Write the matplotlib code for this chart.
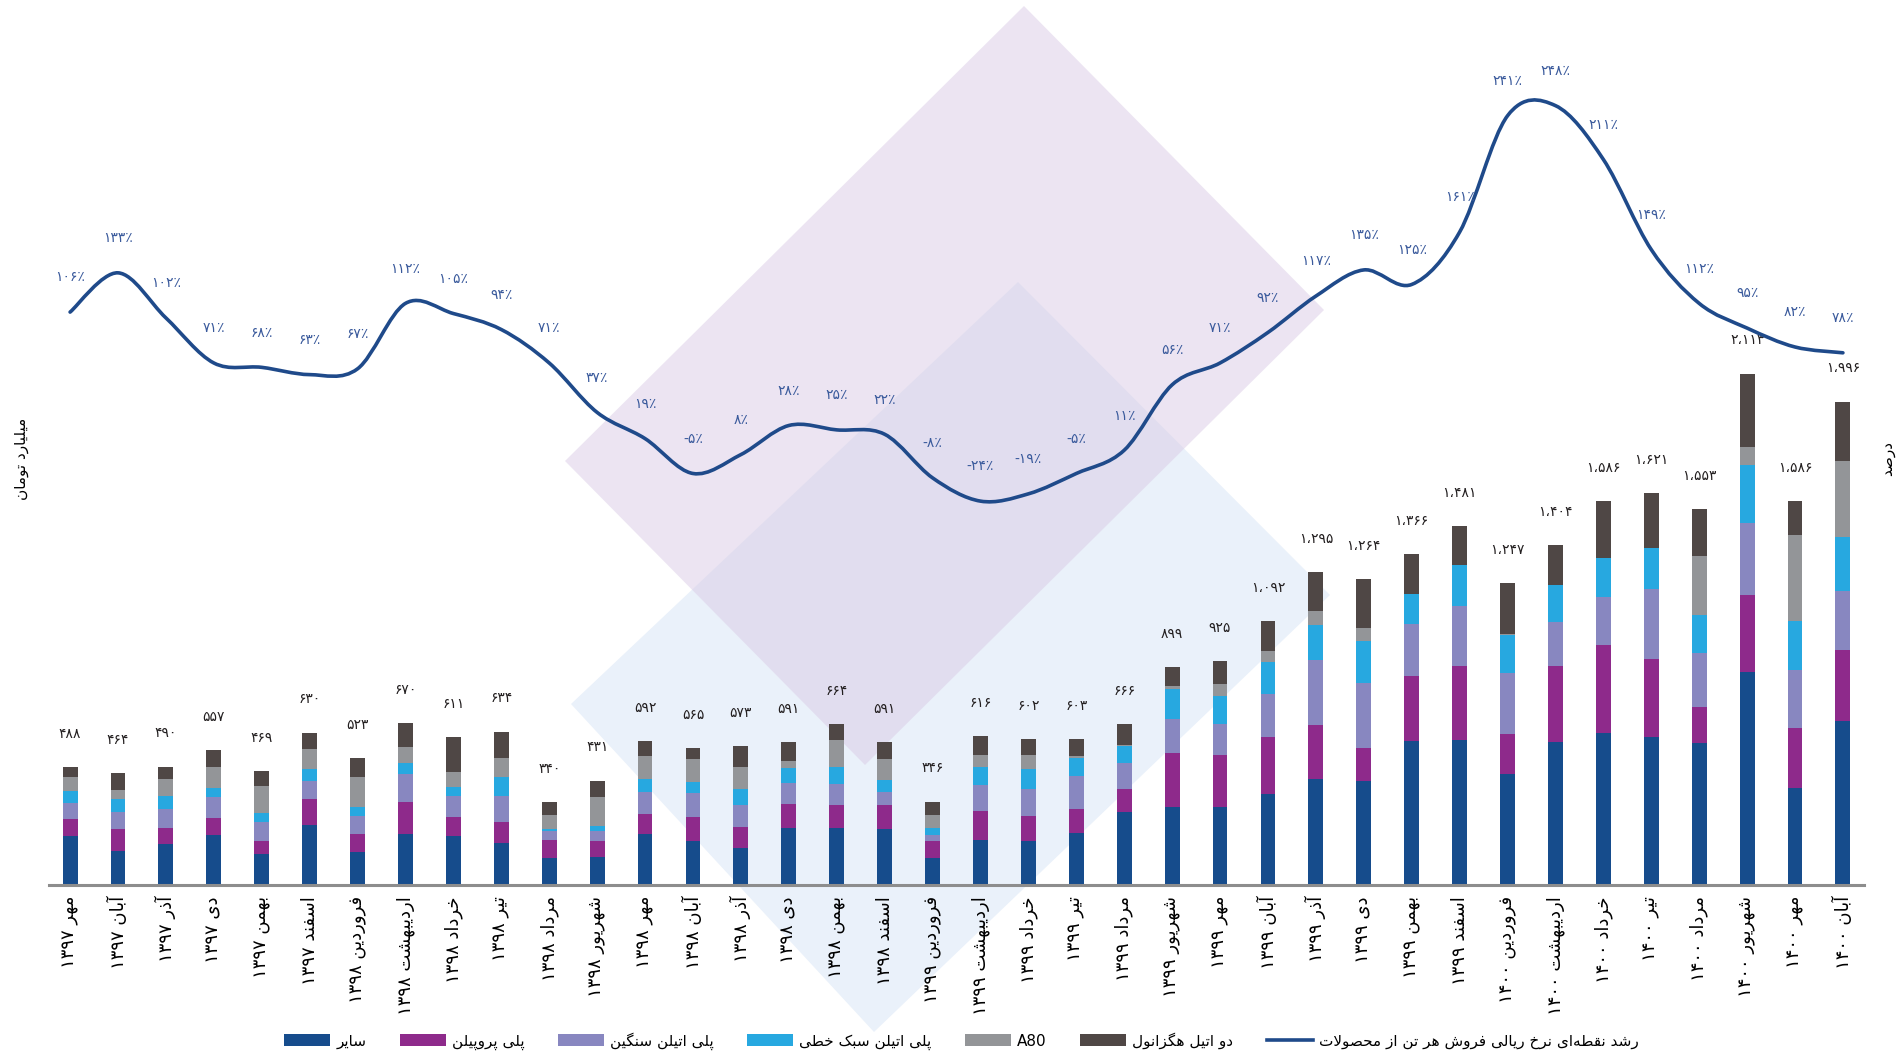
import re

import matplotlib

matplotlib.use("Agg")
import matplotlib.pyplot as plt
import numpy as np
from matplotlib.lines import Line2D
from matplotlib.patches import Patch, PathPatch, Polygon
from matplotlib.path import Path

plt.rcParams["font.family"] = ["DejaVu Sans"]

# ---- data ----
months = [
    "مهر ۱۳۹۷", "آبان ۱۳۹۷", "آذر ۱۳۹۷", "دی ۱۳۹۷", "بهمن ۱۳۹۷", "اسفند ۱۳۹۷",
    "فروردین ۱۳۹۸", "اردیبهشت ۱۳۹۸", "خرداد ۱۳۹۸", "تیر ۱۳۹۸", "مرداد ۱۳۹۸", "شهریور ۱۳۹۸",
    "مهر ۱۳۹۸", "آبان ۱۳۹۸", "آذر ۱۳۹۸", "دی ۱۳۹۸", "بهمن ۱۳۹۸", "اسفند ۱۳۹۸",
    "فروردین ۱۳۹۹", "اردیبهشت ۱۳۹۹", "خرداد ۱۳۹۹", "تیر ۱۳۹۹", "مرداد ۱۳۹۹", "شهریور ۱۳۹۹",
    "مهر ۱۳۹۹", "آبان ۱۳۹۹", "آذر ۱۳۹۹", "دی ۱۳۹۹", "بهمن ۱۳۹۹", "اسفند ۱۳۹۹",
    "فروردین ۱۴۰۰", "اردیبهشت ۱۴۰۰", "خرداد ۱۴۰۰", "تیر ۱۴۰۰", "مرداد ۱۴۰۰", "شهریور ۱۴۰۰",
    "مهر ۱۴۰۰", "آبان ۱۴۰۰",
]

other = [204, 141, 171, 205, 130, 248, 137, 212, 201, 175, 113, 114, 209, 181, 153, 236, 237, 232, 111,
         185, 180, 216, 300, 323, 323, 377, 437, 428, 596, 600, 458, 589, 630, 612, 585, 880, 402, 678]
polypropylene = [68, 92, 64, 72, 52, 109, 72, 130, 79, 85, 71, 67, 85, 98, 85, 98, 92, 98, 72,
                 119, 106, 98, 98, 223, 213, 236, 224, 138, 268, 305, 166, 316, 362, 320, 151, 320, 245, 293]
hdpe = [68, 69, 79, 85, 78, 72, 78, 116, 89, 107, 38, 41, 89, 101, 93, 89, 89, 56, 24,
        111, 112, 136, 106, 139, 130, 176, 268, 268, 216, 248, 250, 182, 199, 293, 224, 296, 242, 243]
lldpe = [48, 52, 55, 37, 36, 50, 37, 48, 37, 78, 10, 22, 55, 47, 65, 61, 68, 46, 30,
         71, 82, 75, 71, 123, 116, 131, 146, 175, 121, 171, 160, 151, 160, 166, 157, 241, 202, 224]
a80 = [57, 38, 71, 90, 115, 83, 124, 66, 62, 79, 57, 119, 93, 93, 93, 30, 114, 89, 54,
       52, 59, 7, 4, 14, 47, 45, 59, 51, 0, 0, 3, 0, 0, 0, 242, 72, 355, 316]
two_eh = [42, 71, 49, 68, 59, 67, 75, 98, 144, 110, 52, 68, 62, 45, 85, 76, 64, 70, 54,
          78, 64, 71, 86, 77, 96, 126, 160, 204, 165, 158, 210, 166, 235, 228, 195, 304, 140, 243]

totals = [488, 464, 490, 557, 469, 630, 523, 670, 611, 634, 340, 431, 592, 565, 573, 591, 664, 591, 346,
          616, 602, 603, 666, 899, 925, 1092, 1295, 1264, 1366, 1481, 1247, 1404, 1586, 1621, 1553, 2113, 1586, 1996]

growth_pct = [106, 133, 102, 71, 68, 63, 67, 112, 105, 94, 71, 37, 19, -5, 8, 28, 25, 22, -8,
              -24, -19, -5, 11, 56, 71, 92, 117, 135, 125, 161, 241, 248, 211, 149, 112, 95, 82, 78]

series_names = ["سایر", "پلی پروپیلن", "پلی اتیلن سنگین", "پلی اتیلن سبک خطی", "A80", "دو اتیل هگزانول"]
line_name = "رشد نقطه‌ای نرخ ریالی فروش هر تن از محصولات"
left_label = "میلیارد تومان"
right_label = "درصد"

colors = ["#164c8c", "#8e2a8b", "#8887c0", "#27a8e0", "#939598", "#4f4745"]
line_color = "#1f4a8a"
pct_color = "#3a5a9c"

# ---- minimal Persian shaping + visual ordering (matplotlib has no bidi) ----
FORMS = {
    "ا": ("\uFE8D", "\uFE8E", None, None), "آ": ("\uFE81", "\uFE82", None, None),
    "ب": ("\uFE8F", "\uFE90", "\uFE91", "\uFE92"), "پ": ("\uFB56", "\uFB57", "\uFB58", "\uFB59"),
    "ت": ("\uFE95", "\uFE96", "\uFE97", "\uFE98"), "ح": ("\uFEA1", "\uFEA2", "\uFEA3", "\uFEA4"),
    "خ": ("\uFEA5", "\uFEA6", "\uFEA7", "\uFEA8"), "د": ("\uFEA9", "\uFEAA", None, None),
    "ذ": ("\uFEAB", "\uFEAC", None, None), "ر": ("\uFEAD", "\uFEAE", None, None),
    "ز": ("\uFEAF", "\uFEB0", None, None), "س": ("\uFEB1", "\uFEB2", "\uFEB3", "\uFEB4"),
    "ش": ("\uFEB5", "\uFEB6", "\uFEB7", "\uFEB8"), "ص": ("\uFEB9", "\uFEBA", "\uFEBB", "\uFEBC"),
    "ط": ("\uFEC1", "\uFEC2", "\uFEC3", "\uFEC4"), "ف": ("\uFED1", "\uFED2", "\uFED3", "\uFED4"),
    "ق": ("\uFED5", "\uFED6", "\uFED7", "\uFED8"), "ک": ("\uFB8E", "\uFB8F", "\uFB90", "\uFB91"),
    "گ": ("\uFB92", "\uFB93", "\uFB94", "\uFB95"), "ل": ("\uFEDD", "\uFEDE", "\uFEDF", "\uFEE0"),
    "م": ("\uFEE1", "\uFEE2", "\uFEE3", "\uFEE4"), "ن": ("\uFEE5", "\uFEE6", "\uFEE7", "\uFEE8"),
    "ه": ("\uFEE9", "\uFEEA", "\uFEEB", "\uFEEC"), "و": ("\uFEED", "\uFEEE", None, None),
    "ی": ("\uFBFC", "\uFBFD", "\uFBFE", "\uFBFF"),
}
LAM_ALEF = {"ا": ("\uFEFB", "\uFEFC"), "آ": ("\uFEF5", "\uFEF6")}
LTR_RUN = r"[0-9A-Za-z۰-۹،]+"


def _dual(c):
    return c in FORMS and FORMS[c][2] is not None


def shape(s):
    out, i = [], 0
    while i < len(s):
        c = s[i]
        if c not in FORMS:
            if c != "\u200c":
                out.append(c)
            i += 1
            continue
        jp = i > 0 and _dual(s[i - 1])
        if c == "ل" and i + 1 < len(s) and s[i + 1] in LAM_ALEF:
            out.append(LAM_ALEF[s[i + 1]][1 if jp else 0])
            i += 2
            continue
        jn = _dual(c) and i + 1 < len(s) and s[i + 1] in FORMS
        iso, fin, ini, med = FORMS[c]
        out.append(med if jp and jn else fin if jp else ini if jn else iso)
        i += 1
    return "".join(out)


def fa(s):
    parts = re.split("(" + LTR_RUN + ")", s)
    return "".join(p if re.fullmatch(LTR_RUN, p) else shape(p)[::-1] for p in reversed(parts))


DIGITS = str.maketrans("0123456789,", "۰۱۲۳۴۵۶۷۸۹،")

# ---- figure ----
fig = plt.figure(figsize=(19.04, 10.59), dpi=100)

# decorative background diamonds
bg = fig.add_axes([0, 0, 1, 1], zorder=-5)
bg.set_xlim(0, 1904)
bg.set_ylim(1059, 0)
bg.axis("off")
bg.add_patch(Polygon([(1018, 282), (1330, 595), (874, 1032), (571, 704)], closed=True,
                     facecolor="#eaf1fa", edgecolor="none"))
bg.add_patch(Polygon([(1024, 6), (1324, 310), (865, 765), (565, 461)], closed=True,
                     facecolor="#dacbe6", alpha=0.5, edgecolor="none"))

ax = fig.add_axes([49 / 1904, 174 / 1059, 1815 / 1904, 855 / 1059])
ax.set_facecolor("none")
x = np.arange(len(months))
bottom = np.zeros(len(months))
for vals, col in zip([other, polypropylene, hdpe, lldpe, a80, two_eh], colors):
    ax.bar(x, vals, width=0.31, bottom=bottom, color=col, zorder=2)
    bottom += np.array(vals)

for xi, (tot, top) in enumerate(zip(totals, bottom)):
    ax.annotate(f"{tot:,}".translate(DIGITS), (xi, top), xytext=(0, 24), textcoords="offset points",
                ha="center", va="center", fontsize=10, color="#231f20")

ax.set_xlim(-0.44, len(months) - 1 + 0.44)
ax.set_ylim(0, 855 / 0.242)
ax.set_xticks(x)
ax.set_xticklabels([fa(m) for m in months], rotation=90, ha="center", va="top", fontsize=13)
ax.tick_params(axis="x", length=0, pad=8)
ax.set_yticks([])
for side in ["top", "left", "right"]:
    ax.spines[side].set_visible(False)
ax.spines["bottom"].set_color("#8d8d8d")
ax.spines["bottom"].set_linewidth(2.2)

# smoothed growth line on a second scale
ax2 = ax.twinx()
ax2.set_ylim(-288, 300)
ax2.set_yticks([])
ax2.axis("off")
pts = np.column_stack([x, growth_pct]).astype(float)
ext = np.vstack([pts[0], pts, pts[-1]])
verts, codes = [pts[0]], [Path.MOVETO]
for i in range(1, len(ext) - 2):
    p0, p1, p2, p3 = ext[i - 1], ext[i], ext[i + 1], ext[i + 2]
    verts += [p1 + (p2 - p0) / 6, p2 - (p3 - p1) / 6, p2]
    codes += [Path.CURVE4] * 3
ax2.add_patch(PathPatch(Path(verts, codes), facecolor="none", edgecolor=line_color, lw=2.6,
                        capstyle="round", zorder=3))
for xi, v in zip(x, growth_pct):
    ax2.annotate(f"{v}٪".translate(DIGITS), (xi, v), xytext=(0, 25), textcoords="offset points",
                 ha="center", va="center", fontsize=10, color=pct_color)

fig.text(22 / 1904, 1 - 459 / 1059, fa(left_label), rotation=90, ha="center", va="center", fontsize=11)
fig.text(1888 / 1904, 1 - 459 / 1059, fa(right_label), rotation=90, ha="center", va="center", fontsize=11)

handles = [Patch(facecolor=c, edgecolor="none") for c in colors]
handles.append(Line2D([0], [0], color=line_color, lw=2.6))
labels = [fa(n) for n in series_names] + [fa(line_name)]
fig.legend(handles, labels, loc="center", bbox_to_anchor=(0.505, 0.017), ncol=7, frameon=False,
           fontsize=11, handlelength=3.0, handleheight=0.8, handletextpad=0.4, columnspacing=2.2)

fig.savefig("out.png", dpi=100)
